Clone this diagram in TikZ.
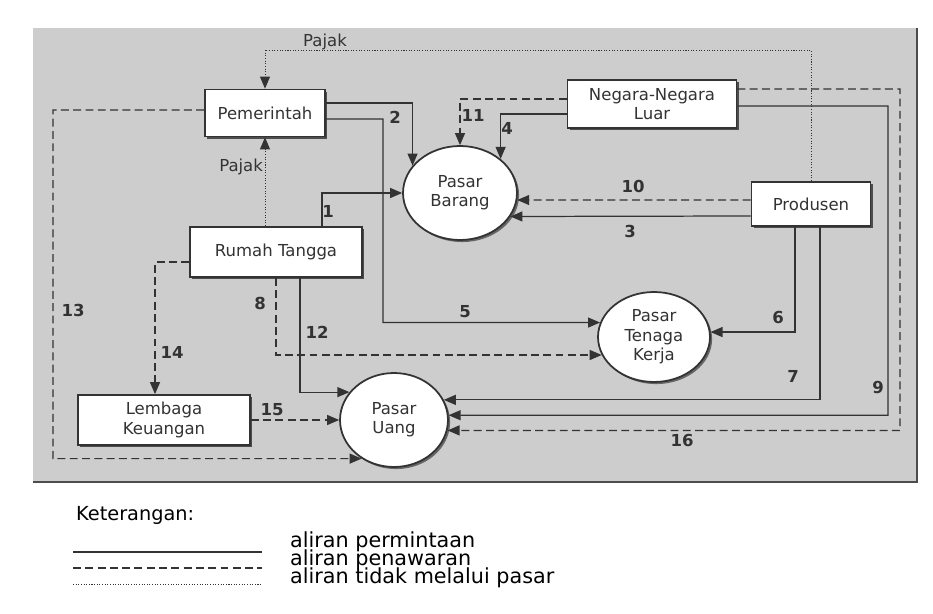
\documentclass[tikz,border=0pt]{standalone}
\usepackage{fontspec}
\setmainfont{DejaVu Sans}
\usetikzlibrary{shapes.geometric,arrows.meta,shadows}
\definecolor{inkgray}{HTML}{333333}
\definecolor{scangray}{HTML}{CDCDCD}

\begin{document}
\begin{tikzpicture}[x=0.02cm,y=-0.02cm,
  every node/.style={align=center,font=\fontsize{9.4}{11}\selectfont,text=inkgray},
  box/.style={draw=inkgray,fill=white,line width=1pt,inner sep=0pt,
    drop shadow={shadow xshift=1.4pt,shadow yshift=-1.4pt,fill=black!75,opacity=0.9}},
  market/.style={ellipse,draw=inkgray,fill=white,line width=1pt,inner sep=0pt,
    drop shadow={shadow xshift=1.2pt,shadow yshift=-1.2pt,fill=black!70,opacity=0.8}},
  num/.style={font=\fontsize{9.4}{11}\selectfont\bfseries},
  sol/.style={-{Triangle[length=0.24cm,width=0.2cm]},line width=0.7pt,draw=inkgray},
  dsh/.style={sol,dash pattern=on 4.5pt off 2.5pt},
  dot/.style={sol,line width=0.5pt,dash pattern=on 0.6pt off 0.9pt},
  legend/.style={font=\fontsize{11.8}{13}\selectfont,text=black}]
  \useasboundingbox (0,0) rectangle (933,614);
  \fill[scangray] (33,28) rectangle (917,482);
  \draw[black!70,line width=1pt] (917,28) -- (917,482) -- (33,482);

  \node[box,minimum width=2.4cm,minimum height=0.94cm] (pem) at (265,113) {Pemerintah};
  \node[box,minimum width=3.38cm,minimum height=0.96cm] (neg) at (652,104) {Negara-Negara\\Luar};
  \node[box,minimum width=2.38cm,minimum height=0.88cm] (prod) at (811,204) {Produsen};
  \node[box,minimum width=3.44cm,minimum height=1cm] (rt) at (276,252) {Rumah Tangga};
  \node[box,minimum width=3.44cm,minimum height=1cm] (lk) at (164,420) {Lembaga\\Keuangan};
  \node[market,minimum width=2.28cm,minimum height=1.88cm] (pb) at (460,193) {Pasar\\Barang};
  \node[market,minimum width=2.24cm,minimum height=1.8cm] (ptk) at (654,337) {Pasar\\Tenaga\\Kerja};
  \node[market,minimum width=2.16cm,minimum height=1.88cm] (pu) at (394,420) {Pasar\\Uang};

  \draw[dot] (prod.north) -- (811,50) -| (pem.north);
  \draw[dot] (rt.north -| pem.south) -- (pem.south);
  \draw[sol] ([xshift=0.92cm]rt.north) |- (pb.west);
  \draw[sol] ([yshift=0.2cm]pem.east) -| (pb.150);
  \draw[sol] ([yshift=-0.12cm]pem.east) -- (383,119) |- (ptk.165);
  \draw[dsh] ([yshift=0.1cm]neg.west) -| (pb.north);
  \draw[sol] ([yshift=-0.2cm]neg.west) -| (pb.40);
  \draw[dsh] ([yshift=0.08cm]prod.west) -- (pb.353);
  \draw[sol] ([yshift=-0.24cm]prod.west) -- (pb.335);
  \draw[sol] ([xshift=-0.32cm]prod.south) |- (ptk.5);
  \draw[sol] ([xshift=0.18cm]prod.south) |- (pu.22);
  \draw[sol] ([yshift=-0.04cm]neg.east) -- (888,106) |- (pu.5);
  \draw[dsh] ([yshift=0.3cm]neg.east) -- (900,89) |- (pu.349);
  \draw[dsh] ([yshift=0.06cm]pem.west) -- (53,110) |- (pu.230);
  \draw[dsh] ([yshift=-0.2cm]rt.west) -| ([xshift=-0.18cm]lk.north);
  \draw[dsh] (rt.south) |- (ptk.199);
  \draw[sol] ([xshift=0.48cm]rt.south) |- (pu.148);
  \draw[dsh] (lk.east) -- (pu.west);

  \node (pajaktop) at (325,42) {Pajak};
  \node[anchor=east,inner sep=1pt] (pajakrt) at (265,167) {Pajak};
  \node[num] (n1) at (328,211) {1};
  \node[num] (n2) at (395,117) {2};
  \node[num] (n3) at (630,231) {3};
  \node[num] (n4) at (507,128) {4};
  \node[num] (n5) at (465,312) {5};
  \node[num] (n6) at (778,317) {6};
  \node[num] (n7) at (793,376) {7};
  \node[num] (n8) at (260,303) {8};
  \node[num] (n9) at (878,387) {9};
  \node[num] (n10) at (633,186) {10};
  \node[num] (n11) at (473,115) {11};
  \node[num] (n12) at (317,332) {12};
  \node[num] (n13) at (73,310) {13};
  \node[num] (n14) at (172,352) {14};
  \node[num] (n15) at (272,410) {15};
  \node[num] (n16) at (682,440) {16};

  \node[legend,anchor=west,font=\fontsize{11}{12}\selectfont] (ket) at (70,515) {Keterangan:};
  \node[legend,anchor=west] (lper) at (284,542) {aliran permintaan};
  \node[legend,anchor=west] (lpen) at (284,560) {aliran penawaran};
  \node[legend,anchor=west] (ltdk) at (284,578) {aliran tidak melalui pasar};
  \draw[line width=0.7pt,black!80] (73,552) -- (262,552);
  \draw[line width=0.7pt,black!80,dash pattern=on 4.5pt off 2.5pt] (73,568) -- (262,568);
  \draw[line width=0.5pt,black!80,dash pattern=on 0.6pt off 0.9pt] (73,584) -- (262,584);
\end{tikzpicture}
\end{document}
